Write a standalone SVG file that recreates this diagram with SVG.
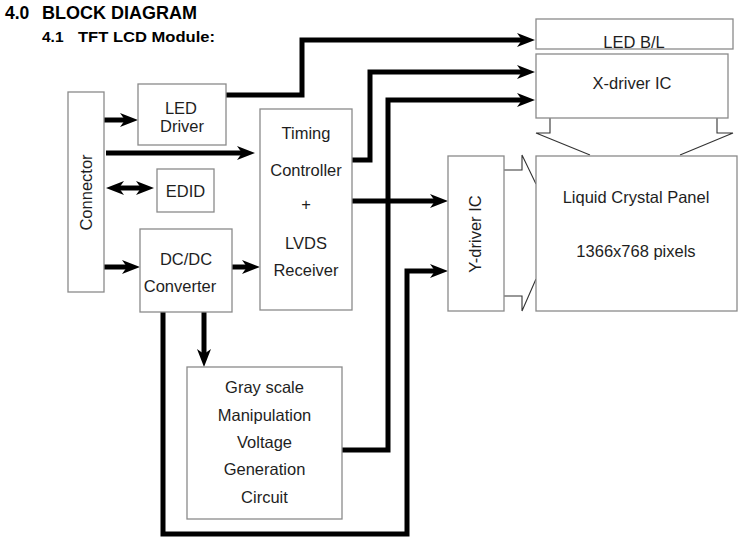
<svg xmlns="http://www.w3.org/2000/svg" width="749" height="539" viewBox="0 0 749 539">
<style>
  .box { fill: #ffffff; stroke: #8a8a8a; stroke-width: 1.3; }
  .lbl { font-family: "Liberation Sans", Arial, sans-serif; font-size: 16.5px; fill: #1e1e1e; text-anchor: middle; }
  .ttl { font-family: "Liberation Sans", Arial, sans-serif; font-weight: bold; fill: #000000; }
  .wire { fill: none; stroke: #000000; stroke-width: 5; stroke-linejoin: miter; stroke-linecap: butt; }
  .thin { fill: none; stroke: #333333; stroke-width: 1.1; }
</style>
<defs>
  <marker id="ah" markerUnits="userSpaceOnUse" markerWidth="20" markerHeight="16" viewBox="0 -8 20 16" refX="5" refY="0" orient="auto-start-reverse">
    <path d="M0,-7 L18,0 L0,7 L5,0 Z" fill="#000000"/>
  </marker>
</defs>
<rect width="749" height="539" fill="#ffffff"/>

<g id="title">
  <text class="ttl" x="5" y="19" font-size="17.5">4.0</text>
  <text class="ttl" x="42" y="19" font-size="17.5" textLength="155" lengthAdjust="spacingAndGlyphs">BLOCK DIAGRAM</text>
  <text class="ttl" x="42" y="42" font-size="15.5">4.1</text>
  <text class="ttl" x="78" y="42" font-size="15.5" textLength="137" lengthAdjust="spacingAndGlyphs">TFT LCD Module:</text>
</g>

<g id="connectors">
  <path class="wire" d="M226,95 H302 V40 H522" marker-end="url(#ah)"/>
  <path class="wire" d="M104,120 H125" marker-end="url(#ah)"/>
  <path class="wire" d="M106,153 H242" marker-end="url(#ah)"/>
  <path class="wire" d="M119,188 H141" marker-start="url(#ah)" marker-end="url(#ah)"/>
  <path class="wire" d="M104,267 H127" marker-end="url(#ah)"/>
  <path class="wire" d="M232,267 H247" marker-end="url(#ah)"/>
  <path class="wire" d="M204,312 V354" marker-end="url(#ah)"/>
  <path class="wire" d="M352,160 H370 V72 H522" marker-end="url(#ah)"/>
  <path class="wire" d="M342,450 H388 V100 H522" marker-end="url(#ah)"/>
  <path class="wire" d="M352,201 H435" marker-end="url(#ah)"/>
  <path class="wire" d="M163,312 V534 H407 V271 H435" marker-end="url(#ah)"/>
  <polyline class="thin" points="550,118 550,133 536,133 590,155"/>
  <polyline class="thin" points="717,118 717,133 733,133 680,155"/>
  <polyline class="thin" points="504,170 522,170 522,155 536,184"/>
  <polyline class="thin" points="504,296 522,296 522,311 536,279"/>
</g>

<g id="connector">
  <rect class="box" x="68" y="92" width="36" height="200"/>
  <text class="lbl" transform="translate(92,192.5) rotate(-90)">Connector</text>
</g>

<g id="led-driver">
  <rect class="box" x="138" y="84" width="88" height="61"/>
  <text class="lbl" x="181" y="114">LED</text>
  <text class="lbl" x="182" y="132">Driver</text>
</g>

<g id="edid">
  <rect class="box" x="157" y="169" width="57" height="43"/>
  <text class="lbl" x="185.5" y="197" font-size="17.5">EDID</text>
</g>

<g id="dcdc">
  <rect class="box" x="140" y="229" width="92" height="83"/>
  <text class="lbl" x="186" y="265">DC/DC</text>
  <text class="lbl" x="180" y="292">Converter</text>
</g>

<g id="timing">
  <rect class="box" x="260" y="109" width="92" height="201"/>
  <text class="lbl" x="306" y="139">Timing</text>
  <text class="lbl" x="306" y="176">Controller</text>
  <text class="lbl" x="306" y="210">+</text>
  <text class="lbl" x="306" y="249">LVDS</text>
  <text class="lbl" x="306" y="276">Receiver</text>
</g>

<g id="gray">
  <rect class="box" x="187" y="367" width="155" height="152"/>
  <text class="lbl" x="264.5" y="393">Gray scale</text>
  <text class="lbl" x="264.5" y="421">Manipulation</text>
  <text class="lbl" x="264.5" y="448">Voltage</text>
  <text class="lbl" x="264.5" y="475">Generation</text>
  <text class="lbl" x="264.5" y="503">Circuit</text>
</g>

<g id="led-bl">
  <rect class="box" x="536" y="19" width="197" height="30"/>
  <text class="lbl" x="634" y="48">LED B/L</text>
</g>

<g id="x-driver">
  <rect class="box" x="536" y="54" width="192" height="64"/>
  <text class="lbl" x="632" y="89">X-driver IC</text>
</g>

<g id="y-driver">
  <rect class="box" x="448" y="156" width="56" height="155"/>
  <text class="lbl" transform="translate(481,234) rotate(-90)">Y-driver IC</text>
</g>

<g id="panel">
  <rect class="box" x="536" y="156" width="201" height="155"/>
  <text class="lbl" x="636" y="203">Liquid Crystal Panel</text>
  <text class="lbl" x="636" y="257">1366x768 pixels</text>
</g>
</svg>
